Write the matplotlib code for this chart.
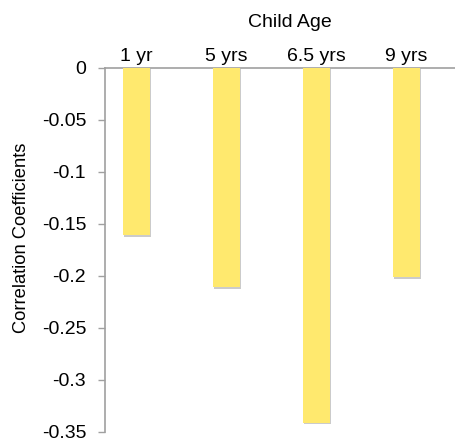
import matplotlib
matplotlib.use("Agg")
import matplotlib.pyplot as plt
import matplotlib.patheffects as pe

categories = ["1 yr", "5 yrs", "6.5 yrs", "9 yrs"]
values = [-0.161, -0.211, -0.341, -0.201]
yticks = [0, -0.05, -0.1, -0.15, -0.2, -0.25, -0.3, -0.35]
ytick_labels = ["0", "-0.05", "-0.1", "-0.15", "-0.2", "-0.25", "-0.3", "-0.35"]

plt.rcParams['font.family'] = ['Liberation Sans', 'DejaVu Sans']

W, H = 456, 443
fig = plt.figure(figsize=(W / 100, H / 100), dpi=100)
left, right, top, bottom = 105, 456, 67.7, 432
ax = fig.add_axes([left / W, 1 - bottom / H, (right - left) / W, (bottom - top) / H])

bars = ax.bar(range(len(categories)), values, width=0.3, color="#FFE96E", zorder=3)
for b in bars:
    b.set_path_effects([pe.SimplePatchShadow(offset=(0.8, -1.2), shadow_rgbFace="#999999", alpha=0.5), pe.Normal()])

ax.set_xlim(-0.35, 3.548)
ax.set_ylim(-0.35, 0)
ax.set_yticks(yticks)
ax.set_yticklabels(ytick_labels, fontsize=14)
ax.set_xticks(range(len(categories)))
ax.set_xticklabels(categories, fontsize=14)
ax.xaxis.tick_top()
ax.tick_params(axis='x', length=0, pad=2)
ax.tick_params(axis='y', length=5, width=1, color="#A0A0A0", pad=8.5)

for s in ["right", "bottom"]:
    ax.spines[s].set_visible(False)
for s in ["left", "top"]:
    ax.spines[s].set_color("#A0A0A0")
    ax.spines[s].set_linewidth(1.2)

fig.text(290 / W, 1 - 27 / H, "Child Age", ha="center", va="baseline", fontsize=14)
fig.text(22 / W, 1 - 237.5 / H, "Correlation Coefficients", ha="center", va="center",
         rotation=90, fontsize=13.2)

fig.savefig("out.png", dpi=100)
